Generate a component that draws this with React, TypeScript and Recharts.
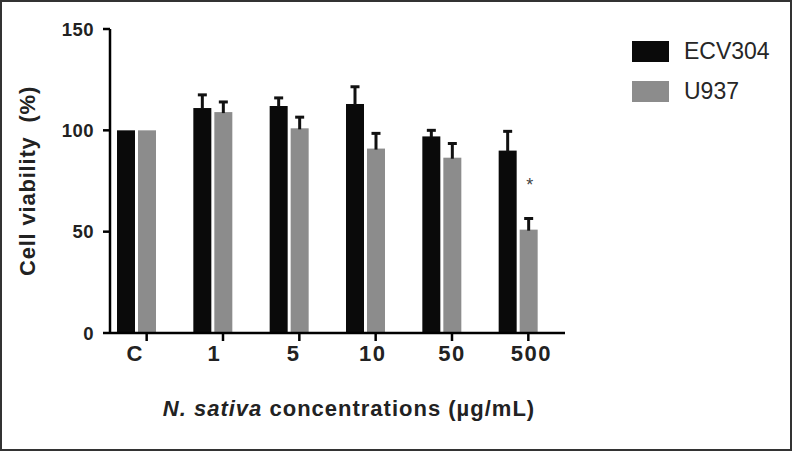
import React from 'react';
import { BarChart, Bar, XAxis, YAxis } from 'recharts';

const categories = ['C', '1', '5', '10', '50', '500'];
const ecv304 = [100, 111, 112, 113, 97, 90];
const ecv304Err = [0, 6.5, 4, 8.5, 3, 9.5];
const u937 = [100, 109, 101, 91, 86.5, 51];
const u937Err = [0, 5, 5.5, 7.5, 7, 5.5];
const significance = ['', '', '', '', '', '*'];
const yTicks = [0, 50, 100, 150];
const seriesNames = ['ECV304', 'U937'];

const data = categories.map((c, i) => ({
  cat: c,
  ecv: ecv304[i],
  ecvErr: ecv304Err[i],
  u937: u937[i],
  u937Err: u937Err[i],
  sig: significance[i],
}));

const FONT = '"Liberation Sans", Arial, Helvetica, sans-serif';
const BLACK = '#0a0a0a';
const GRAY = '#8c8c8c';
const seriesColors = [BLACK, GRAY];
const BAR_SIZE = 18;
const BAR_GAP = 3;

const makeShape = (valueKey: string, errKey: string, showSig: boolean) => (props: any) => {
  const { x, y, width, height, fill, payload } = props;
  const value = payload[valueKey];
  const err = payload[errKey];
  const ppu = value ? height / value : 0;
  const errTop = y - err * ppu;
  const cx = x + width / 2;
  return (
    <g>
      <rect x={x} y={y} width={width} height={height} fill={fill} />
      {err > 0 && (
        <g stroke="#111" strokeWidth={3}>
          <line x1={cx} x2={cx} y1={y + 1} y2={errTop} />
          <line x1={cx - 4.5} x2={cx + 4.5} y1={errTop} y2={errTop} />
        </g>
      )}
      {showSig && payload.sig && (
        <text x={cx + 1} y={errTop - 27} textAnchor="middle" fontFamily={FONT} fontSize={18} fill="#444">
          {payload.sig}
        </text>
      )}
    </g>
  );
};

const XTick = (props: any) => {
  const { x, y, payload, index } = props;
  const tx = x + BAR_GAP / 2 + BAR_SIZE / 2;
  const lx = x - 1 + (index || 0) * 2.9;
  return (
    <g>
      <line x1={tx} x2={tx} y1={y} y2={y + 8} stroke="#000" strokeWidth={2.5} />
      <text x={lx} y={y + 28} textAnchor="middle" fontFamily={FONT} fontWeight="bold" fontSize={22} letterSpacing={1.5} fill="#222">
        {payload.value}
      </text>
    </g>
  );
};

export default function App() {
  return (
    <div style={{ position: 'absolute', left: 0, top: 0, width: 792, height: 451, background: '#fff' }}>
      <BarChart
        width={792}
        height={451}
        data={data}
        margin={{ top: 29, right: 227, bottom: 58, left: 50 }}
        barSize={BAR_SIZE}
        barGap={BAR_GAP}
      >
        <XAxis
          dataKey="cat"
          height={60}
          padding={{ left: -12, right: 9 }}
          axisLine={{ stroke: '#000', strokeWidth: 2.5 }}
          tickLine={false}
          tickSize={0}
          tickMargin={0}
          tick={<XTick />}
          interval={0}
          label={{
            content: (p: any) => {
              const vb = p.viewBox;
              return (
                <text x={349} y={vb.y + 83} textAnchor="middle" fontFamily={FONT} fontWeight="bold" fontSize={22} letterSpacing={1} fill="#222">
                  <tspan fontStyle="italic">N. sativa</tspan>
                  <tspan> concentrations (µg/mL)</tspan>
                </text>
              );
            },
          }}
        />
        <YAxis
          width={60}
          domain={[0, 150]}
          ticks={yTicks}
          axisLine={{ stroke: '#000', strokeWidth: 2.5 }}
          tickLine={{ stroke: '#000', strokeWidth: 2.5 }}
          tickSize={7}
          tickMargin={9}
          tick={{ fontFamily: FONT, fontWeight: 'bold', fontSize: 18.5, fill: '#222', letterSpacing: 0.5 }}
          label={{
            content: (p: any) => {
              const vb = p.viewBox;
              const cy = vb.y + vb.height / 2;
              return (
                <text
                  x={27}
                  y={cy}
                  transform={`rotate(-90 27 ${cy})`}
                  textAnchor="middle"
                  dominantBaseline="central"
                  fontFamily={FONT}
                  fontWeight="bold"
                  fontSize={22}
                  letterSpacing={0.8}
                  fill="#222"
                  style={{ whiteSpace: 'pre' }}
                >
                  {'Cell viability  (%)'}
                </text>
              );
            },
          }}
        />
        <Bar dataKey="ecv" name={seriesNames[0]} fill={BLACK} isAnimationActive={false} shape={makeShape('ecv', 'ecvErr', false)} />
        <Bar dataKey="u937" name={seriesNames[1]} fill={GRAY} isAnimationActive={false} shape={makeShape('u937', 'u937Err', true)} />
      </BarChart>
      <div style={{ position: 'absolute', left: 632, top: 41, width: 150 }}>
        {seriesNames.map((n, i) => (
          <div key={n} style={{ display: 'flex', alignItems: 'center', height: 21, marginBottom: 19 }}>
            <div style={{ width: 37, height: 21, background: seriesColors[i], flex: 'none' }} />
            <span
              style={{
                marginLeft: 15,
                fontFamily: FONT,
                fontSize: 23,
                lineHeight: '21px',
                color: '#262626',
                whiteSpace: 'nowrap',
              }}
            >
              {n}
            </span>
          </div>
        ))}
      </div>
      <div
        style={{
          position: 'absolute',
          left: 0,
          top: 0,
          width: 792,
          height: 451,
          boxSizing: 'border-box',
          border: '2px solid #333',
          pointerEvents: 'none',
        }}
      />
    </div>
  );
}
